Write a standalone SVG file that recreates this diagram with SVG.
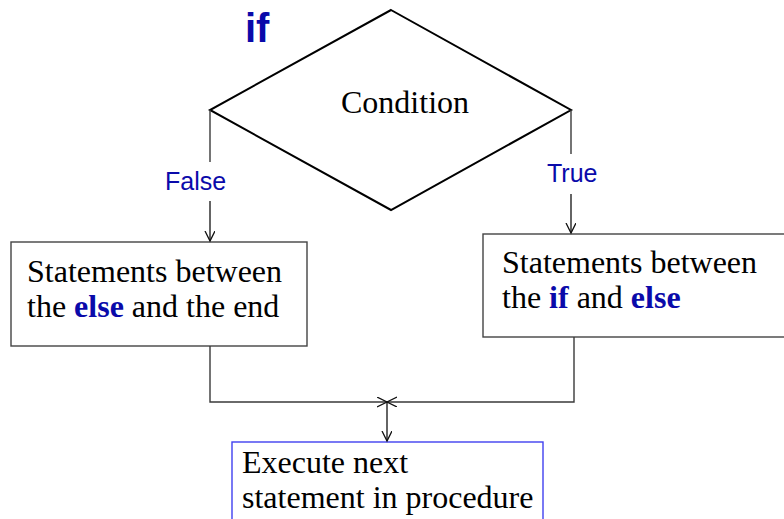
<svg xmlns="http://www.w3.org/2000/svg" width="784" height="519" viewBox="0 0 784 519">
<style>
.line{fill:none;stroke:#3a3a3a;stroke-width:1.4}
.stem{fill:none;stroke:#111;stroke-width:1.3}
.box{fill:#fff;stroke:#444;stroke-width:1.4}
.serif{font-family:"Liberation Serif","Times New Roman",serif;font-size:32px;fill:#000}
.kw{font-weight:bold;fill:#0a0aaa}
.lbl{font-family:"Liberation Sans",Arial,sans-serif;font-size:25px;fill:#0a0aaa}
</style>
<defs>
<marker id="arr" markerWidth="12" markerHeight="12" refX="10" refY="5" orient="auto" markerUnits="userSpaceOnUse">
<path d="M0,0 L10,5 L0,10" fill="none" stroke="#111" stroke-width="1.3"/>
</marker>
</defs>
<g id="title"><text x="245" y="42" font-family="'Liberation Sans',Arial,sans-serif" font-size="40" font-weight="bold" fill="#0a0aaa">if</text></g>
<g id="condition">
<polygon points="391,10 571,110 391,210 210,110" fill="#fff" stroke="#000" stroke-width="2"/>
<text x="341" y="113" class="serif">Condition</text>
</g>
<g id="else-box">
<rect x="11" y="242" width="296" height="104" class="box"/>
<text x="27" y="282" class="serif">Statements between</text>
<text x="27" y="317" class="serif">the <tspan class="kw">else</tspan> and the end</text>
</g>
<g id="if-box">
<rect x="483" y="234" width="303" height="103" class="box"/>
<text x="502" y="273" class="serif">Statements between</text>
<text x="502" y="308" class="serif">the <tspan class="kw">if</tspan> and <tspan class="kw">else</tspan></text>
</g>
<g id="next-box">
<rect x="232" y="442" width="311" height="100" fill="#fff" stroke="#4040f0" stroke-width="1.4"/>
<text x="242" y="473" class="serif">Execute next</text>
<text x="242" y="508" class="serif">statement in procedure</text>
</g>
<g id="connectors">
<line x1="210" y1="110" x2="210" y2="162" class="line"/>
<line x1="210" y1="201" x2="210" y2="241" class="stem" marker-end="url(#arr)"/>
<line x1="571" y1="110" x2="571" y2="154" class="line"/>
<line x1="571" y1="194" x2="571" y2="233" class="stem" marker-end="url(#arr)"/>
<polyline points="210,346 210,402 387,402" class="line" marker-end="url(#arr)"/>
<polyline points="574,337 574,402 387,402" class="line" marker-end="url(#arr)"/>
<line x1="387" y1="402" x2="387" y2="441" class="stem" marker-end="url(#arr)"/>
<text x="165" y="190" class="lbl">False</text>
<text x="547" y="182" class="lbl">True</text>
</g>
</svg>
